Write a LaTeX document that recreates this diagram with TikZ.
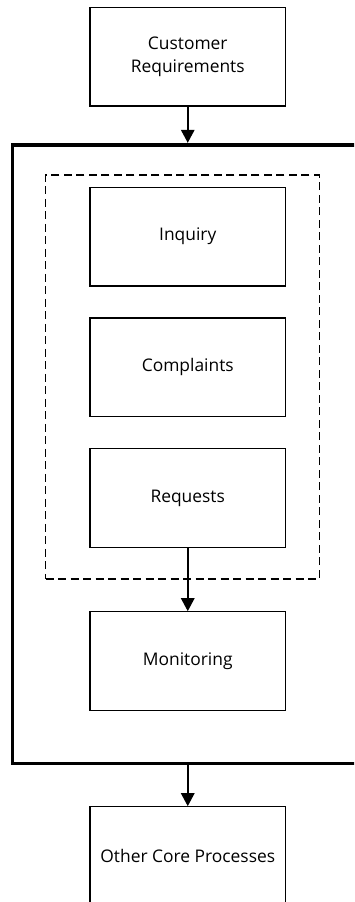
\documentclass[tikz,border=0pt]{standalone}
\usepackage{fontspec}
\setmainfont{Open Sans}
\usetikzlibrary{arrows.meta}
\begin{document}
\begin{tikzpicture}[x=1pt,y=-1pt,
  procbox/.style={draw=black, line width=1.2pt, minimum width=195.5pt, minimum height=98.5pt,
    inner sep=0pt, align=center, font=\fontsize{17.4}{22.5}\selectfont},
  groupbox/.style={draw=black, line width=1.2pt, dash pattern=on 8pt off 4.5pt,
    minimum width=273.6pt, minimum height=404pt, inner sep=0pt},
  corebox/.style={draw=black, line width=3.8pt, minimum width=359.5pt, minimum height=618.8pt,
    inner sep=0pt},
  flow/.style={draw=black, line width=1.6pt, -{Triangle[width=13.5pt,length=13pt]}}]
  \useasboundingbox (0,0) rectangle (354,902);
  \clip (0,0) rectangle (354,902);

  % outer process frame and the dashed group of intake channels
  \node[corebox] (core) at (192.25,454.1) {};
  \node[groupbox] (group) at (182.5,377) {};

  % process steps
  \node[procbox] (req)     at (187.75,56.65) {Customer\\Requirements};
  \node[procbox] (inquiry) at (187.75,236.7) {Inquiry};
  \node[procbox] (compl)   at (187.75,367.2) {Complaints};
  \node[procbox] (reqs)    at (187.75,498)   {Requests};
  \node[procbox] (monitor) at (187.75,661)   {Monitoring};
  \node[procbox] (other)   at (187.75,856)   {Other Core Processes};

  % connectors
  \draw[flow] (req.south) -- (req.south |- core.north);
  \draw[flow] (reqs.south) -- (monitor.north);
  \draw[flow] (other.north |- core.south) -- (other.north);
\end{tikzpicture}
\end{document}
